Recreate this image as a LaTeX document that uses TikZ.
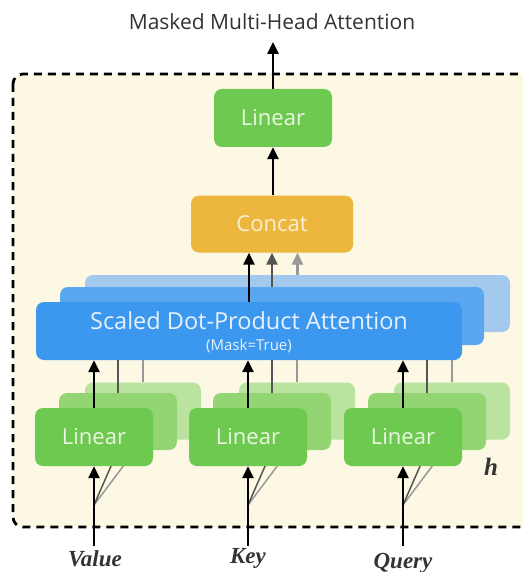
\documentclass[tikz,border=0pt]{standalone}
\usepackage{fontspec}
\setmainfont{Open Sans}
\newfontfamily\serifit{Liberation Serif}
\usetikzlibrary{arrows.meta}

\definecolor{cream}{HTML}{FCF8E3}
\definecolor{greenA}{HTML}{6DC94F}
\definecolor{greenB}{HTML}{92D572}
\definecolor{greenC}{HTML}{B9E39F}
\definecolor{greenTxt}{HTML}{EAF7E2}
\definecolor{blueA}{HTML}{3C98EF}
\definecolor{blueB}{HTML}{5BA7EF}
\definecolor{blueC}{HTML}{A3CAEE}
\definecolor{blueTxt}{HTML}{E6F1FC}
\definecolor{orangeA}{HTML}{EDB73E}
\definecolor{orangeTxt}{HTML}{FCF0D2}
\definecolor{titleGray}{HTML}{333333}
\definecolor{darkLine}{HTML}{555555}
\definecolor{lightLine}{HTML}{999999}

\tikzset{
  box/.style={rounded corners=8pt, inner sep=0pt, draw=none},
  linbox/.style={box, fill=greenA, text=greenTxt, minimum width=118pt, minimum height=58pt, font=\fontsize{22}{22}\selectfont},
  linboxB/.style={box, fill=greenB, minimum width=118pt, minimum height=57pt},
  linboxC/.style={box, fill=greenC, minimum width=116pt, minimum height=57pt},
  catbox/.style={box, fill=orangeA, text=orangeTxt, minimum width=162pt, minimum height=57pt, font=\fontsize{22}{22}\selectfont},
  attbox/.style={box, fill=blueA, text=blueTxt, minimum width=426pt, minimum height=58pt},
  attboxB/.style={box, fill=blueB, minimum width=424pt, minimum height=58pt},
  attboxC/.style={box, fill=blueC, minimum width=425pt, minimum height=57pt},
  arr/.style={line width=2.5pt, black, -{Triangle[length=12pt,width=11pt]}},
  arrdark/.style={arr, darkLine},
  arrlight/.style={arr, lightLine},
  linkdark/.style={line width=2pt, darkLine},
  linklight/.style={line width=2pt, lightLine},
  fandark/.style={line width=1.5pt, darkLine},
  fanlight/.style={line width=1.5pt, lightLine},
  inlabel/.style={font=\serifit\bfseries\itshape\fontsize{23}{23}\selectfont, text=titleGray, inner sep=0pt},
  frame/.style={draw=black, fill=cream, line width=2.8pt, dash pattern=on 8pt off 6pt, rounded corners=10pt}
}

\begin{document}
\begin{tikzpicture}[x=1pt, y=-1pt]
\useasboundingbox (0,0) rectangle (522,572);

% dashed frame holding the h parallel heads
\draw[frame] (13,74) rectangle (545,527);

% title and output
\node[font=\fontsize{21}{21}\selectfont, text=titleGray] (title) at (272,22) {Masked Multi-Head Attention};
\coordinate (out) at (273,42);

% final projection and concatenation
\node[linbox] (lintop) at (273,118) {Linear};
\node[catbox] (concat) at (272,224) {Concat};

% stacked attention heads
\node[attboxC] (sdpa3) at (297.5,303.5) {};
\node[attboxB] (sdpa2) at (272,316) {};
\node[attbox] (sdpa1) at (249,331) {};
\node[text=blueTxt, font=\fontsize{23.5}{23.5}\selectfont] (sdpatxt) at (249,321) {Scaled Dot-Product Attention};
\node[text=blueTxt, font=\fontsize{15}{15}\selectfont] (masktxt) at (249,346) {(Mask=True)};

% input projections: value, key, query (three stacked copies each)
\foreach \nm/\cx in {v/94, k/248, q/403} {
  \node[linboxC] (\nm lin3) at (\cx+49,411) {};
  \node[linboxB] (\nm lin2) at (\cx+24,421.5) {};
  \coordinate (\nm fork) at (\cx,505);
  \draw[fanlight] (\nm fork) -- (\nm lin3.south);
  \draw[fandark] (\nm fork) -- (\nm lin2.south);
  \node[linbox] (\nm lin1) at (\cx,437) {Linear};
}

% connectors into the attention heads
\foreach \nm in {v, k, q} {
  \draw[arr] (\nm lin1.north) -- (\nm lin1.north |- sdpa1.south);
  \draw[linkdark] (\nm lin2.north) -- (\nm lin2.north |- sdpa1.south);
  \draw[linklight] (\nm lin3.north) -- (\nm lin3.north |- sdpa1.south);
}

% heads into concat, concat into linear, linear out
\draw[arr] (sdpa1.north) -- (sdpa1.north |- concat.south);
\draw[arrdark] (sdpa2.north) -- (sdpa2.north |- concat.south);
\draw[arrlight] (sdpa3.north) -- (sdpa3.north |- concat.south);
\draw[arr] (concat.north -| lintop.south) -- (lintop.south);
\draw[arr] (lintop.north) -- (out);

% inputs
\node[inlabel] (value) at (95,559) {Value};
\node[inlabel] (key) at (248,558) {Key};
\node[inlabel] (query) at (403,563) {Query};
\coordinate (vstart) at (94,546);
\coordinate (kstart) at (248,546);
\coordinate (qstart) at (403,546);
\foreach \nm in {v, k, q} {
  \draw[arr] (\nm start) -- (\nm lin1.south);
}

\node[inlabel, font=\serifit\bfseries\itshape\fontsize{25}{25}\selectfont] (hlabel) at (491,467) {h};
\end{tikzpicture}
\end{document}
